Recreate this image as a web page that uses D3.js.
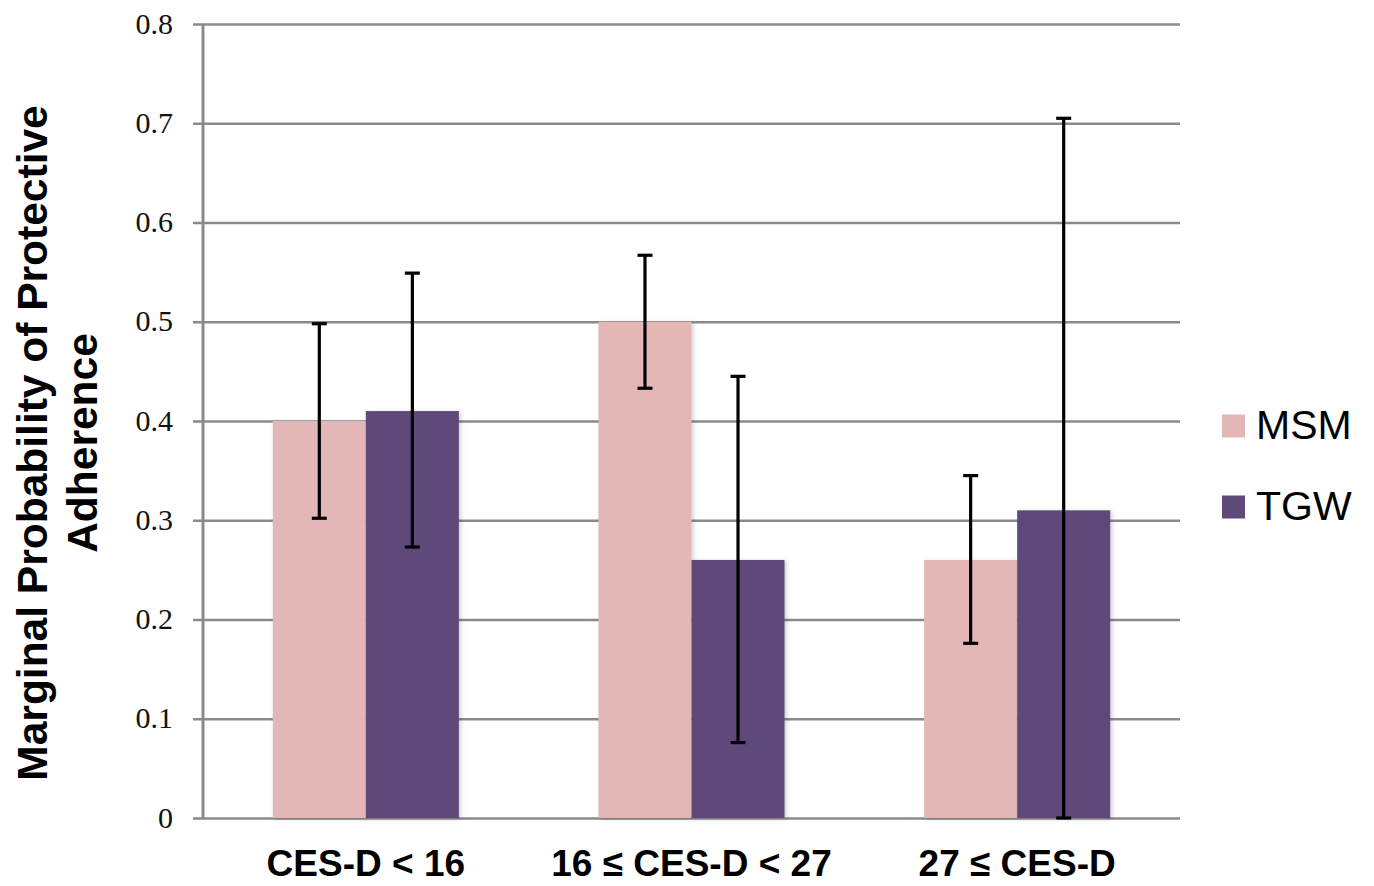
<!DOCTYPE html>
<html lang="en">

<head>
    <meta charset="utf-8">
    <title>Marginal Probability of Protective Adherence</title>
    <style type="text/css">
        body {
            margin: 0;
            background: #fff;
        }
    </style>
    <script type="text/javascript" src="https://cdn.jsdelivr.net/npm/d3@7/dist/d3.min.js"></script>
</head>

<body>
    <script type="text/javascript">
        var svgW = 1374;
        var svgH = 886;

        /* DATA */

        var categories = ["CES-D < 16", "16 \u2264 CES-D < 27", "27 \u2264 CES-D"];
        var seriesNames = ["MSM", "TGW"];
        var msmValues = [0.40, 0.50, 0.26];
        var tgwValues = [0.41, 0.26, 0.31];
        var msmLow = [0.302, 0.433, 0.176];
        var msmHigh = [0.498, 0.567, 0.345];
        var tgwLow = [0.273, 0.076, 0.0];
        var tgwHigh = [0.549, 0.445, 0.705];
        var yTicks = [0, 0.1, 0.2, 0.3, 0.4, 0.5, 0.6, 0.7, 0.8];
        var colors = ["#e4b7b7", "#5f4a7a"];

        var rows = [];
        for (var i = 0; i < categories.length; i++) {
            rows.push({ cat: categories[i], series: "MSM", value: msmValues[i], lo: msmLow[i], hi: msmHigh[i] });
            rows.push({ cat: categories[i], series: "TGW", value: tgwValues[i], lo: tgwLow[i], hi: tgwHigh[i] });
        }

        var plot = { left: 203, right: 1180, top: 24, bottom: 818 };

        var svg = d3.select("body").append("svg")
            .attr("width", svgW)
            .attr("height", svgH);

        var defs = svg.append("defs");
        defs.append("filter")
            .attr("id", "shadow")
            .attr("x", "-10%").attr("y", "-10%")
            .attr("width", "130%").attr("height", "130%")
            .append("feDropShadow")
            .attr("dx", 2).attr("dy", 1)
            .attr("stdDeviation", 2)
            .attr("flood-color", "#000")
            .attr("flood-opacity", 0.18);

        var y = d3.scaleLinear()
            .domain([0, 0.8])
            .range([plot.bottom, plot.top]);

        var x0 = d3.scaleBand()
            .domain(categories)
            .range([plot.left, plot.right])
            .padding(0);

        var x1 = d3.scaleBand()
            .domain(seriesNames)
            .range([0, x0.bandwidth()])
            .paddingInner(0)
            .paddingOuter(0.75);

        var color = d3.scaleOrdinal()
            .domain(seriesNames)
            .range(colors);

        /* GRID + Y AXIS */

        var yAxis = d3.axisLeft(y)
            .tickValues(yTicks)
            .tickSize(-(plot.right - plot.left))
            .tickPadding(30)
            .tickFormat(function (d) { return d === 0 ? "0" : d3.format(".1f")(d); });

        var gy = svg.append("g")
            .attr("transform", "translate(" + plot.left + ",0)")
            .call(yAxis);

        gy.select(".domain").remove();
        gy.selectAll(".tick line")
            .attr("x1", -10)
            .attr("stroke", "#8a8a8a")
            .attr("stroke-width", 2.5);
        gy.selectAll(".tick text")
            .attr("font-family", "'Liberation Serif', 'Times New Roman', serif")
            .attr("font-size", 30)
            .attr("fill", "#111")
            .attr("dy", "0.3em");

        svg.append("line")
            .attr("x1", plot.left).attr("x2", plot.left)
            .attr("y1", plot.top).attr("y2", plot.bottom)
            .attr("stroke", "#8a8a8a")
            .attr("stroke-width", 3);

        /* BARS */

        var groups = svg.append("g").selectAll("g")
            .data(rows)
            .enter().append("g")
            .attr("transform", function (d) { return "translate(" + (x0(d.cat) + x1(d.series)) + ",0)"; });

        groups.append("rect")
            .attr("x", 0)
            .attr("y", function (d) { return y(d.value); })
            .attr("width", x1.bandwidth())
            .attr("height", function (d) { return y(0) - y(d.value); })
            .attr("fill", function (d) { return color(d.series); })
            .attr("filter", "url(#shadow)");

        /* ERROR BARS */

        var capW = 15;
        var eb = groups.append("g")
            .attr("stroke", "#000")
            .attr("stroke-width", 3.2);

        eb.append("line")
            .attr("x1", x1.bandwidth() / 2).attr("x2", x1.bandwidth() / 2)
            .attr("y1", function (d) { return y(d.lo); })
            .attr("y2", function (d) { return y(d.hi); });
        eb.append("line")
            .attr("x1", x1.bandwidth() / 2 - capW / 2).attr("x2", x1.bandwidth() / 2 + capW / 2)
            .attr("y1", function (d) { return y(d.hi); })
            .attr("y2", function (d) { return y(d.hi); });
        eb.append("line")
            .attr("x1", x1.bandwidth() / 2 - capW / 2).attr("x2", x1.bandwidth() / 2 + capW / 2)
            .attr("y1", function (d) { return y(d.lo); })
            .attr("y2", function (d) { return y(d.lo); });

        /* X LABELS */

        svg.append("g").selectAll("text")
            .data(categories)
            .enter().append("text")
            .attr("x", function (d) { return x0(d) + x0.bandwidth() / 2; })
            .attr("y", 876)
            .attr("text-anchor", "middle")
            .attr("font-family", "'Liberation Sans', Arial, sans-serif")
            .attr("font-weight", "bold")
            .attr("font-size", 37)
            .attr("fill", "#000")
            .text(function (d) { return d; });

        /* Y TITLE */

        var yt = svg.append("text")
            .attr("transform", "translate(47,443) rotate(-90)")
            .attr("text-anchor", "middle")
            .attr("font-family", "'Liberation Sans', Arial, sans-serif")
            .attr("font-weight", "bold")
            .attr("font-size", 42.5)
            .attr("fill", "#000");
        yt.append("tspan").attr("x", 0).attr("y", 0).text("Marginal Probability of Protective");
        yt.append("tspan").attr("x", 0).attr("y", 50).text("Adherence");

        /* LEGEND */

        var legend = svg.append("g").selectAll("g")
            .data(seriesNames)
            .enter().append("g")
            .attr("transform", function (d, i) { return "translate(1222," + (426 + i * 81) + ")"; });

        legend.append("rect")
            .attr("x", 0)
            .attr("y", -11.5)
            .attr("width", 23)
            .attr("height", 23)
            .attr("fill", function (d) { return color(d); });

        legend.append("text")
            .attr("x", 34)
            .attr("y", 13)
            .attr("font-family", "'Liberation Sans', Arial, sans-serif")
            .attr("font-size", 41)
            .attr("fill", "#000")
            .text(function (d) { return d; });
    </script>
</body>

</html>
